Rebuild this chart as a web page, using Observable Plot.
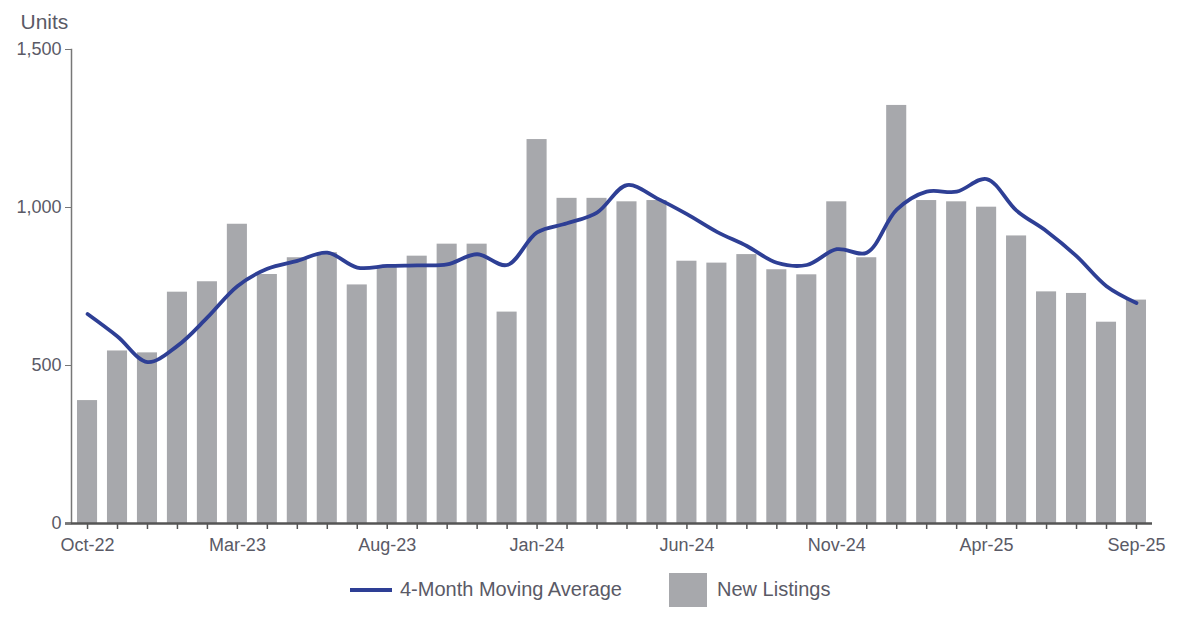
<!DOCTYPE html>
<html>
<head>
<meta charset="utf-8">
<script src="https://cdn.jsdelivr.net/npm/d3@7"></script>
<script src="https://cdn.jsdelivr.net/npm/@observablehq/plot@0.6"></script>
<style>
  body { margin: 0; background: #fff; font-family: "Liberation Sans", Arial, sans-serif; }
  #wrap { position: relative; width: 1182px; height: 625px; }
  .legend { position: absolute; top: 572px; height: 35px; display: flex; align-items: center; font-size: 20px; color: #5a5a66; }
  .sw-line { width: 42px; height: 4px; background: #2E3F95; margin-right: 8px; }
  .sw-box { width: 38px; height: 34px; background: #A7A8AC; margin-right: 10px; }
</style>
</head>
<body>
<div id="wrap"></div>
<script>
const months = ["Oct-22","Nov-22","Dec-22","Jan-23","Feb-23","Mar-23","Apr-23","May-23","Jun-23","Jul-23","Aug-23","Sep-23",
  "Oct-23","Nov-23","Dec-23","Jan-24","Feb-24","Mar-24","Apr-24","May-24","Jun-24","Jul-24","Aug-24","Sep-24",
  "Oct-24","Nov-24","Dec-24","Jan-25","Feb-25","Mar-25","Apr-25","May-25","Jun-25","Jul-25","Aug-25","Sep-25"];
const newListings = [389, 546, 540, 732, 765, 947, 788, 841, 857, 755, 810, 846,
  884, 884, 669, 1215, 1029, 1029, 1018, 1022, 830, 824, 851, 803,
  787, 1018, 841, 1323, 1022, 1018, 1001, 910, 733, 728, 637, 707];
const movingAvg = [663, 592, 511, 562, 652, 751, 806, 831, 857, 810, 815, 817,
  820, 852, 818, 921, 950, 984, 1071, 1029, 979, 923, 878, 825,
  818, 868, 857, 993, 1050, 1050, 1090, 990, 925, 846, 751, 698];
const xLabels = ["Oct-22","Mar-23","Aug-23","Jan-24","Jun-24","Nov-24","Apr-25","Sep-25"];
const yTicks = [0, 500, 1000, 1500];

const data = months.map((m, i) => ({month: m, listings: newListings[i], avg: movingAvg[i]}));

const chart = Plot.plot({
  width: 1182,
  height: 565,
  marginLeft: 71,
  marginRight: 30,
  marginTop: 49,
  marginBottom: 42,
  style: {fontFamily: "'Liberation Sans', Arial, sans-serif", fontSize: "18px", color: "#5a5a66", background: "#fff"},
  x: {type: "band", domain: months, paddingInner: 0.33, paddingOuter: 0.2},
  y: {domain: [0, 1500]},
  marks: [
    Plot.barY(data, {x: "month", y: "listings", fill: "#A7A8AC"}),
    Plot.line(data, {x: "month", y: "avg", stroke: "#2E3F95", strokeWidth: 3.8, curve: "catmull-rom"}),
    Plot.frame({anchor: "left", stroke: "#777", strokeWidth: 1.5}),
    Plot.ruleY([0], {stroke: "#555", strokeWidth: 2.5, insetLeft: -6}),
    Plot.axisY({ticks: yTicks, tickFormat: d3.format(",d"), tickSize: 6, tickPadding: 4, label: null, stroke: "#777"}),
    Plot.axisX({tickSize: 6, tickFormat: () => "", label: null, stroke: "#555", strokeWidth: 1.5}),
    Plot.axisX({ticks: xLabels, tickSize: 0, tickPadding: 15, label: null}),
    Plot.text(["Units"], {frameAnchor: "top-left", dx: -51, dy: -27, textAnchor: "start", lineAnchor: "middle", fontSize: 21, fill: "#5a5a66"})
  ]
});
const wrap = document.getElementById("wrap");
wrap.appendChild(chart);

const l1 = document.createElement("div");
l1.className = "legend"; l1.style.left = "350px";
l1.innerHTML = '<span class="sw-line"></span><span>4-Month Moving Average</span>';
wrap.appendChild(l1);
const l2 = document.createElement("div");
l2.className = "legend"; l2.style.left = "669px";
l2.innerHTML = '<span class="sw-box"></span><span>New Listings</span>';
wrap.appendChild(l2);
</script>
</body>
</html>
